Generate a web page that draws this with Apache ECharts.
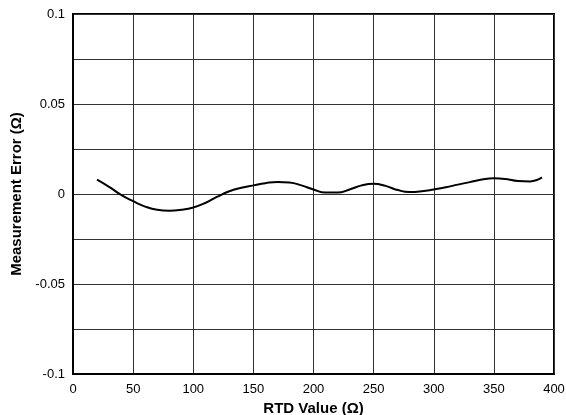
<!DOCTYPE html>
<html>
<head>
<meta charset="utf-8">
<script src="https://cdn.jsdelivr.net/npm/echarts@6/dist/echarts.min.js"></script>
<style>html,body{margin:0;padding:0;background:#fff}#c{width:566px;height:415px}</style>
</head>
<body>
<div id="c"></div>
<script>
const rtdValues = [20,30,40,50,60,70,80,90,100,110,120,130,140,150,160,170,180,190,200,210,220,230,240,250,260,270,280,290,300,310,320,330,340,350,360,370,380,390];
const measurementError = [0.008,0.004,-0.0005,-0.004,-0.007,-0.0088,-0.0093,-0.0088,-0.0075,-0.005,-0.0015,0.0015,0.0035,0.0048,0.006,0.0067,0.0064,0.0048,0.0025,0.0008,0.0008,0.0025,0.0048,0.0057,0.0045,0.0022,0.0011,0.0015,0.0025,0.0037,0.0052,0.0066,0.008,0.0087,0.0083,0.0072,0.007,0.0092];
const yTickLabels = ['-0.1','-0.05','0','0.05','0.1'];
const xTitle = 'RTD Value (Ω)';
const yTitle = 'Measurement Error (Ω)';

const chart = echarts.init(document.getElementById('c'));
const font = 'Liberation Sans, Arial, sans-serif';
chart.setOption({
  animation: false,
  grid: {left: 73, right: 12, top: 14, bottom: 41, containLabel: false, outerBoundsMode: 'none',
    show: true, borderColor: '#000', borderWidth: 2, backgroundColor: '#fff'},
  xAxis: {
    type: 'value', min: 0, max: 400, interval: 50,
    name: xTitle, nameLocation: 'middle', nameGap: 25,
    nameTextStyle: {fontFamily: font, fontWeight: 'bold', fontSize: 15, color: '#000'},
    axisLine: {onZero: false, lineStyle: {color: '#000', width: 2}},
    axisTick: {show: false},
    axisLabel: {fontFamily: font, fontSize: 13, color: '#000', margin: 9},
    splitLine: {lineStyle: {color: '#333', width: 1}}
  },
  yAxis: {
    type: 'value', min: -0.1, max: 0.1, interval: 0.025,
    name: yTitle, nameLocation: 'middle', nameGap: 48,
    nameTextStyle: {fontFamily: font, fontWeight: 'bold', fontSize: 15, color: '#000'},
    axisLine: {show: true, onZero: false, lineStyle: {color: '#000', width: 2}},
    axisTick: {show: false},
    axisLabel: {fontFamily: font, fontSize: 13, color: '#000', margin: 8,
      formatter: function (v) {
        const s = (Math.round(v * 1000) / 1000).toString();
        return yTickLabels.indexOf(s) >= 0 ? s : '';
      }},
    splitLine: {lineStyle: {color: '#333', width: 1}}
  },
  series: [{
    type: 'line', smooth: true, showSymbol: false,
    lineStyle: {color: '#000', width: 2},
    data: rtdValues.map((x, i) => [x, measurementError[i]])
  }]
});
</script>
</body>
</html>
